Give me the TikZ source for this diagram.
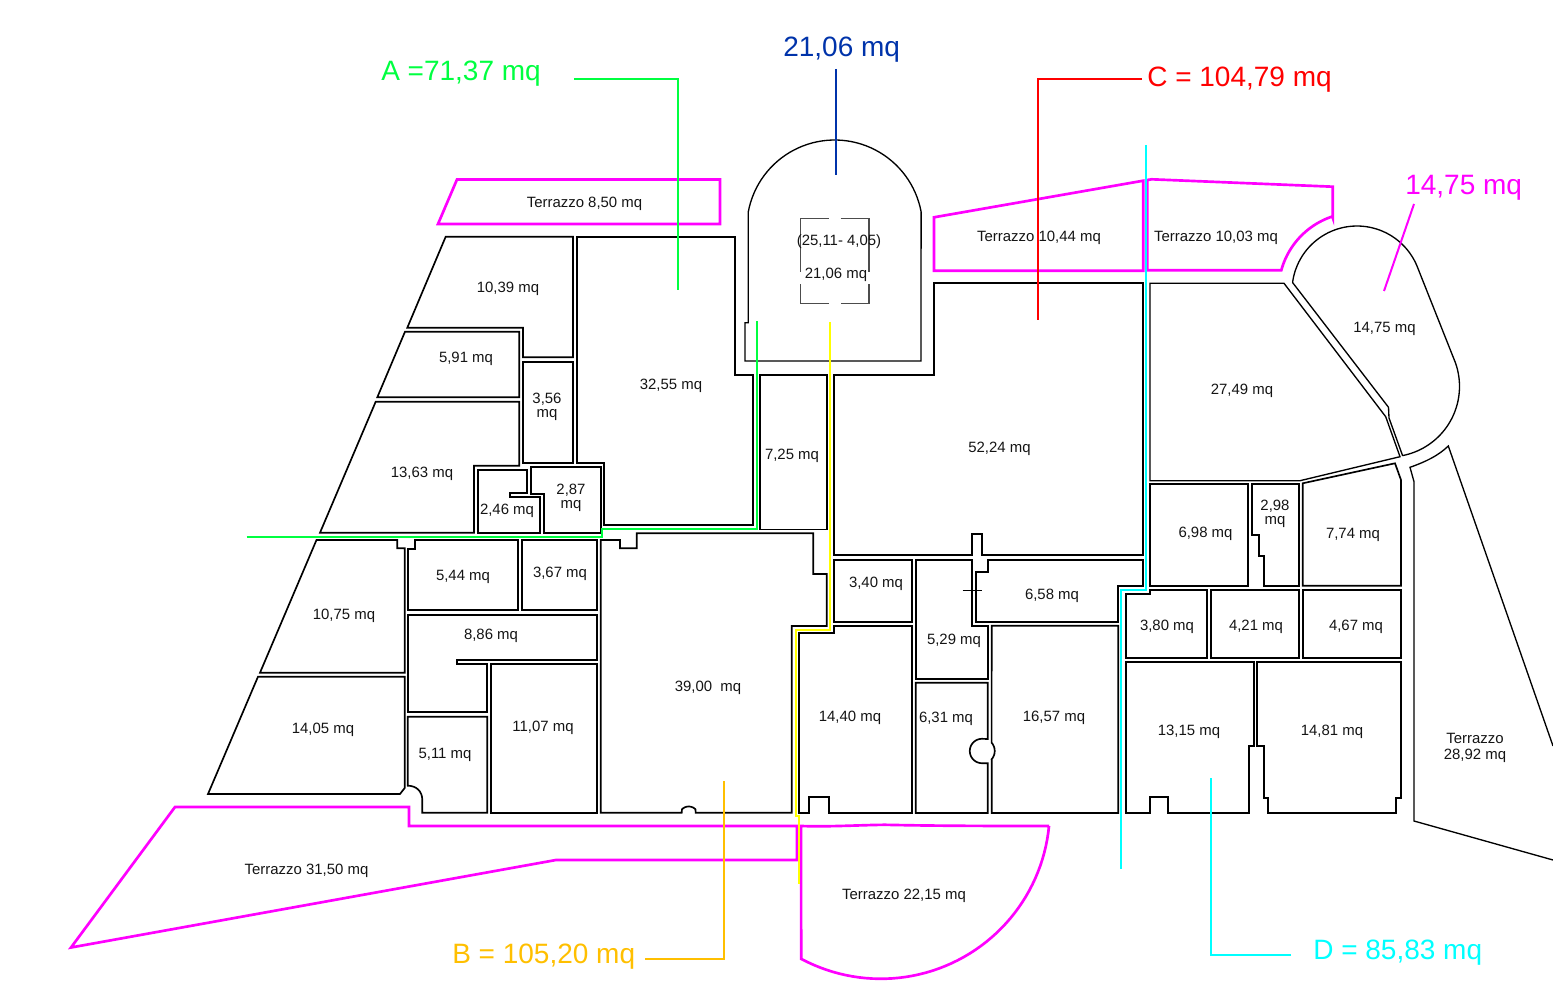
\documentclass[tikz,border=0pt]{standalone}
\usepackage{fontspec}
\setmainfont{Liberation Sans}
\definecolor{cgreen}{RGB}{0,255,64}
\definecolor{cmag}{RGB}{255,0,255}
\definecolor{cred}{RGB}{255,0,0}
\definecolor{ccyan}{RGB}{0,255,255}
\definecolor{cyel}{RGB}{255,255,0}
\definecolor{corange}{RGB}{255,191,0}
\definecolor{cblue}{RGB}{0,51,170}
\definecolor{ctext}{RGB}{20,20,20}
\tikzset{
  room/.style={draw=black,line width=1.25pt,line join=miter},
  thinroom/.style={draw=black,line width=1pt,line join=miter},
  terrace/.style={draw=cmag,line width=2pt,line join=miter},
  lead/.style={line width=1.5pt,line join=miter},
  thinmark/.style={draw=black!70,line width=0.8pt},
  lab/.style={text=ctext,inner sep=0pt,align=center,font=\fontsize{11.2}{10}\selectfont},
  lab2/.style={text=ctext,inner sep=0pt,align=center,font=\fontsize{11.2}{12}\selectfont},
  big/.style={inner sep=0pt,anchor=west,font=\fontsize{21}{24}\selectfont}
}
\begin{document}
\begin{tikzpicture}[x=0.75pt,y=-0.75pt]
\useasboundingbox (0,0) rectangle (1553,984);
% --- west wing
\path[room] (445.7,236.7) -- (573,236.7) -- (573,357.3) -- (523,357.3) -- (523,327.7) -- (407.3,327.7) -- cycle;
\path[room] (405,331.7) -- (519.3,331.7) -- (519.3,397.3) -- (377.3,397.3) -- cycle;
\path[room] (523,361.7) -- (573.3,361.7) -- (573.3,462.7) -- (523,462.7) -- cycle;
\path[room] (375.7,401.7) -- (519.3,401.7) -- (519.3,465.7) -- (474,465.7) -- (474,532.7) -- (320,532.7) -- cycle;
\path[room] (477.7,469.7) -- (526.7,469.7) -- (526.7,493.3) -- (509.7,493.3) -- (509.7,497.3) -- (540.3,497.3) -- (540.3,532.7) -- (477.7,532.7) -- cycle;
\path[room] (530.7,466.7) -- (600.7,466.7) -- (600.7,532.7) -- (544,532.7) -- (544,493.7) -- (530.7,493.7) -- cycle;
\path[room] (577.3,236.7) -- (735,236.7) -- (735,374.7) -- (752.7,374.7) -- (752.7,525) -- (604.3,525) -- (604.3,462.7) -- (577.3,462.7) -- cycle;
\path[room] (760,374.7) -- (827,374.7) -- (827,529.5) -- (760,529.5) -- cycle;
% --- apse
\path[thinroom] (745,322.7) -- (748.3,322.7) -- (748.3,211.7)
  -- plot[variable=\t,domain=-169.4:-10.6,samples=50] ({834.7+87.9*cos(\t)},{227.9+87.9*sin(\t)})
  -- (921,361) -- (745,361) -- cycle;
\path[thinmark] (800.7,272) -- (800.7,218.3) -- (829,218.3) (840.7,218.3) -- (869,218.3) -- (869,272)
  (869,284.3) -- (869,303.3) -- (840.7,303.3) (829,303.3) -- (800.7,303.3) -- (800.7,284.3);
% --- central
\path[room] (934.3,283.3) -- (1142.7,283.3) -- (1142.7,555.3) -- (981.7,555.3) -- (981.7,534) -- (972,534) -- (972,555.3) -- (834.3,555.3) -- (834.3,374.7) -- (934.3,374.7) -- cycle;
\path[room] (834.3,559.7) -- (912.3,559.7) -- (912.3,621.7) -- (834.3,621.7) -- cycle;
\path[room] (915.7,559.7) -- (972.3,559.7) -- (972.3,625.7) -- (987.7,625.7) -- (987.7,678.7) -- (915.7,678.7) -- cycle;
\path[room] (988.3,559.7) -- (1142.7,559.7) -- (1142.7,585.7) -- (1118.3,585.7) -- (1118.3,621.7) -- (975.7,621.7) -- (975.7,571.7) -- (988.3,571.7) -- cycle;
\path[thinmark,draw=black] (962.7,590.3) -- (981.7,590.3);
\path[room] (799,633.3) -- (834.3,633.3) -- (834.3,625.7) -- (912.3,625.7) -- (912.3,813) -- (828.7,813) -- (828.7,796.7) -- (809.3,796.7) -- (809.3,813) -- (799,813) -- cycle;
\path[room] (915.7,682.7) -- (987.7,682.7) -- (987.7,739)
  -- plot[variable=\t,domain=-90:-270,samples=30] ({982+12.2*cos(\t)},{751+12.2*sin(\t)})
  -- (987.7,763.2) -- (987.7,813) -- (915.7,813) -- cycle;
\path[room] (991.7,625.7) -- (1118.3,625.7) -- (1118.3,813) -- (991.7,813) -- (991.7,759.5)
  -- plot[variable=\t,domain=41:-41,samples=15] ({982+12.7*cos(\t)},{751+12.7*sin(\t)}) -- cycle;
% --- south-west
\path[room] (600.7,540) -- (620,540) -- (620,548.3) -- (636.7,548.3) -- (636.7,533.3) -- (813.3,533.3) -- (813.3,574) -- (826.7,574) -- (826.7,626) -- (791.7,626) -- (791.7,812.7) -- (695.7,812.7)
  -- plot[variable=\t,domain=-45:-135,samples=12] ({688.7+9.5*cos(\t)},{816+9.5*sin(\t)})
  -- (681.7,812.7) -- (600.7,812.7) -- cycle;
\path[room] (407.7,549.3) -- (415,549.3) -- (415,540) -- (518.3,540) -- (518.3,610) -- (407.7,610) -- cycle;
\path[room] (522.3,540) -- (596.7,540) -- (596.7,610) -- (522.3,610) -- cycle;
\path[room] (407.7,614.7) -- (596.7,614.7) -- (596.7,660) -- (456.7,660) -- (456.7,664) -- (487.3,664) -- (487.3,712.3) -- (407.7,712.3) -- cycle;
\path[room] (490.7,664) -- (596.7,664) -- (596.7,812.7) -- (490.7,812.7) -- cycle;
\path[room] (407.7,716.7) -- (487.3,716.7) -- (487.3,812.7) -- (422.3,812.7) -- (422.3,800) .. controls (422.3,791) and (416,785.7) .. (407.7,785.7) -- cycle;
\path[room] (316.5,540) -- (397.3,540) -- (397.3,548.3) -- (404.7,548.3) -- (404.7,672.7) -- (260,672.7) -- cycle;
\path[room] (258,676.7) -- (404.7,676.7) -- (404.7,788) -- (400,794) -- (208,794) -- cycle;
% --- east
\path[thinroom] (1150,283.3) -- (1284,283.3) -- (1385.7,416.7) -- (1400,456.7) -- (1300,480.7) -- (1150,480.7) -- cycle;
\path[thinroom] (1292.7,282.7)
  -- plot[variable=\t,domain=-172:-20,samples=50] ({1357+65*cos(\t)},{291+65*sin(\t)})
  -- (1455,361.7)
  -- plot[variable=\t,domain=-20.5:78.9,samples=40] ({1389+70.5*cos(\t)},{386.4+70.5*sin(\t)})
  -- (1402.7,456) -- (1389,418) -- (1388.5,407.3) -- cycle;
\path[room] (1302.7,483.3) -- (1395,463.3) -- (1401,480) -- (1401,585.7) -- (1302.7,585.7) -- cycle;
\path[room] (1150,484.3) -- (1248.3,484.3) -- (1248.3,585.7) -- (1150,585.7) -- cycle;
\path[room] (1252.3,484.3) -- (1298.7,484.3) -- (1298.7,585.7) -- (1264,585.7) -- (1264,555.7) -- (1259,555.7) -- (1259,534.7) -- (1252.3,534.7) -- cycle;
\path[room] (1125.7,594) -- (1150,594) -- (1150,590) -- (1206.7,590) -- (1206.7,658.3) -- (1125.7,658.3) -- cycle;
\path[room] (1210.7,590) -- (1298.7,590) -- (1298.7,658.3) -- (1210.7,658.3) -- cycle;
\path[room] (1302.7,590) -- (1401,590) -- (1401,658.3) -- (1302.7,658.3) -- cycle;
\path[room] (1125.7,661.7) -- (1254,661.7) -- (1254,746) -- (1249,746) -- (1249,812.7) -- (1168.3,812.7) -- (1168.3,797.3) -- (1150,797.3) -- (1150,812.7) -- (1125.7,812.7) -- cycle;
\path[room] (1257.3,661.7) -- (1401,661.7) -- (1401,797.7) -- (1396,797.7) -- (1396,812.7) -- (1267.7,812.7) -- (1267.7,797.7) -- (1264,797.7) -- (1264,746) -- (1257.3,746) -- cycle;
\path[thinroom] (1553,746) -- (1448.3,446) .. controls (1438,456) and (1425,462) .. (1410,467.3) -- (1414,481.7) -- (1414,821) -- (1553,860);
% --- terraces
\path[terrace] (457,179.5) -- (720,179.5) -- (720,224) -- (438,224) -- cycle;
\path[terrace] (934,217.3) -- (1143.3,180.7) -- (1143.3,270.7) -- (934,270.7) -- cycle;
\path[terrace] (1147.3,270.3) -- (1147.3,180) -- (1151.7,179.3) -- (1332.7,186.7) -- (1332.7,217.5)
  -- plot[variable=\t,domain=-108.3:-164.7,samples=30] ({1357+78.5*cos(\t)},{291+78.5*sin(\t)})
  -- (1280.5,270.3) -- cycle;
\path[terrace] (175,807) -- (409,807) -- (409,826) -- (797,826) -- (797,860) -- (556,860) -- (71,947.5) -- cycle;
\path[terrace] (801,826) .. controls (830,827) and (860,825) .. (885,824.8) .. controls (940,826) and (1000,826) .. (1049.2,826)
  -- plot[variable=\t,domain=5.5:118.1,samples=50] ({880.8+169*cos(\t)},{809.8+169*sin(\t)})
  -- cycle;
% --- leaders
\draw[lead,cgreen] (574,79) -- (678,79) -- (678,290);
\draw[lead,cgreen] (246.7,536.5) -- (602.3,536.5) -- (602.3,529.3) -- (756.5,529.3) -- (756.5,320.7);
\draw[lead,cyel] (829.8,322) -- (829.8,630) -- (795.7,630) -- (795.7,816) -- (798.5,816) -- (798.5,884);
\draw[lead,corange] (645,958.5) -- (724,958.5) -- (724,781);
\draw[lead,ccyan] (1291,955) -- (1211,955) -- (1211,778);
\draw[lead,ccyan] (1146,145) -- (1146,590) -- (1120.5,590) -- (1120.5,869);
\draw[lead,cred] (1142,79) -- (1037.5,79) -- (1037.5,320);
\draw[lead,cblue] (836,69) -- (836,175);
\draw[lead,cmag] (1414,204) -- (1384,291);
% --- big labels
\node[big,text=cgreen] (tA) at (381,74) {A =71,37 mq};
\node[big,text=cblue] (tCup) at (783,50) {21,06 mq};
\node[big,text=cred] (tC) at (1147,80) {C = 104,79 mq};
\node[big,text=cmag] (tP) at (1405,188) {14,75 mq};
\node[big,text=corange] (tB) at (452,957) {B = 105,20 mq};
\node[big,text=ccyan] (tD) at (1313,953) {D = 85,83 mq};
% --- room labels
\node[lab] (n1) at (584.5,204) {Terrazzo 8,50 mq};
\node[lab] (n2) at (508,289) {10,39 mq};
\node[lab] (n3) at (466,359) {5,91 mq};
\node[lab] (n4) at (547,407) {3,56\\mq};
\node[lab] (n5) at (422,474) {13,63 mq};
\node[lab] (n6) at (507,511) {2,46 mq};
\node[lab] (n7) at (571,498) {2,87\\mq};
\node[lab] (n8) at (671,386) {32,55 mq};
\node[lab] (n9) at (792,456) {7,25 mq};
\node[lab] (n10) at (463,577) {5,44 mq};
\node[lab] (n11) at (560,574) {3,67 mq};
\node[lab] (n12) at (491,636) {8,86 mq};
\node[lab] (n13) at (344,616) {10,75 mq};
\node[lab] (n14) at (323,730) {14,05 mq};
\node[lab] (n15) at (445,755) {5,11 mq};
\node[lab] (n16) at (543,728) {11,07 mq};
\node[lab] (n17) at (708,688) {39,00\ \ mq};
\node[lab] (n18) at (839,242) {(25,11- 4,05)};
\node[lab] (n19) at (836,275) {21,06 mq};
\node[lab] (n20) at (1039,238) {Terrazzo 10,44 mq};
\node[lab] (n21) at (1216,238) {Terrazzo 10,03 mq};
\node[lab] (n22) at (1384.5,329) {14,75 mq};
\node[lab] (n23) at (1242,391) {27,49 mq};
\node[lab] (n24) at (999.5,449) {52,24 mq};
\node[lab] (n25) at (1205.5,534) {6,98 mq};
\node[lab] (n26) at (1275,514) {2,98\\mq};
\node[lab] (n27) at (1353,535) {7,74 mq};
\node[lab] (n28) at (876,584) {3,40 mq};
\node[lab] (n29) at (1052,596) {6,58 mq};
\node[lab] (n30) at (954,641) {5,29 mq};
\node[lab] (n31) at (1167,627) {3,80 mq};
\node[lab] (n32) at (1256,627) {4,21 mq};
\node[lab] (n33) at (1356,627) {4,67 mq};
\node[lab] (n34) at (850,718) {14,40 mq};
\node[lab] (n35) at (946,719) {6,31 mq};
\node[lab] (n36) at (1054,718) {16,57 mq};
\node[lab] (n37) at (1189,732) {13,15 mq};
\node[lab] (n38) at (1332,732) {14,81 mq};
\node[lab2] (n39) at (1475,748) {Terrazzo\\28,92 mq};
\node[lab] (n40) at (306.5,871) {Terrazzo 31,50 mq};
\node[lab] (n41) at (904,896) {Terrazzo 22,15 mq};
\end{tikzpicture}
\end{document}
